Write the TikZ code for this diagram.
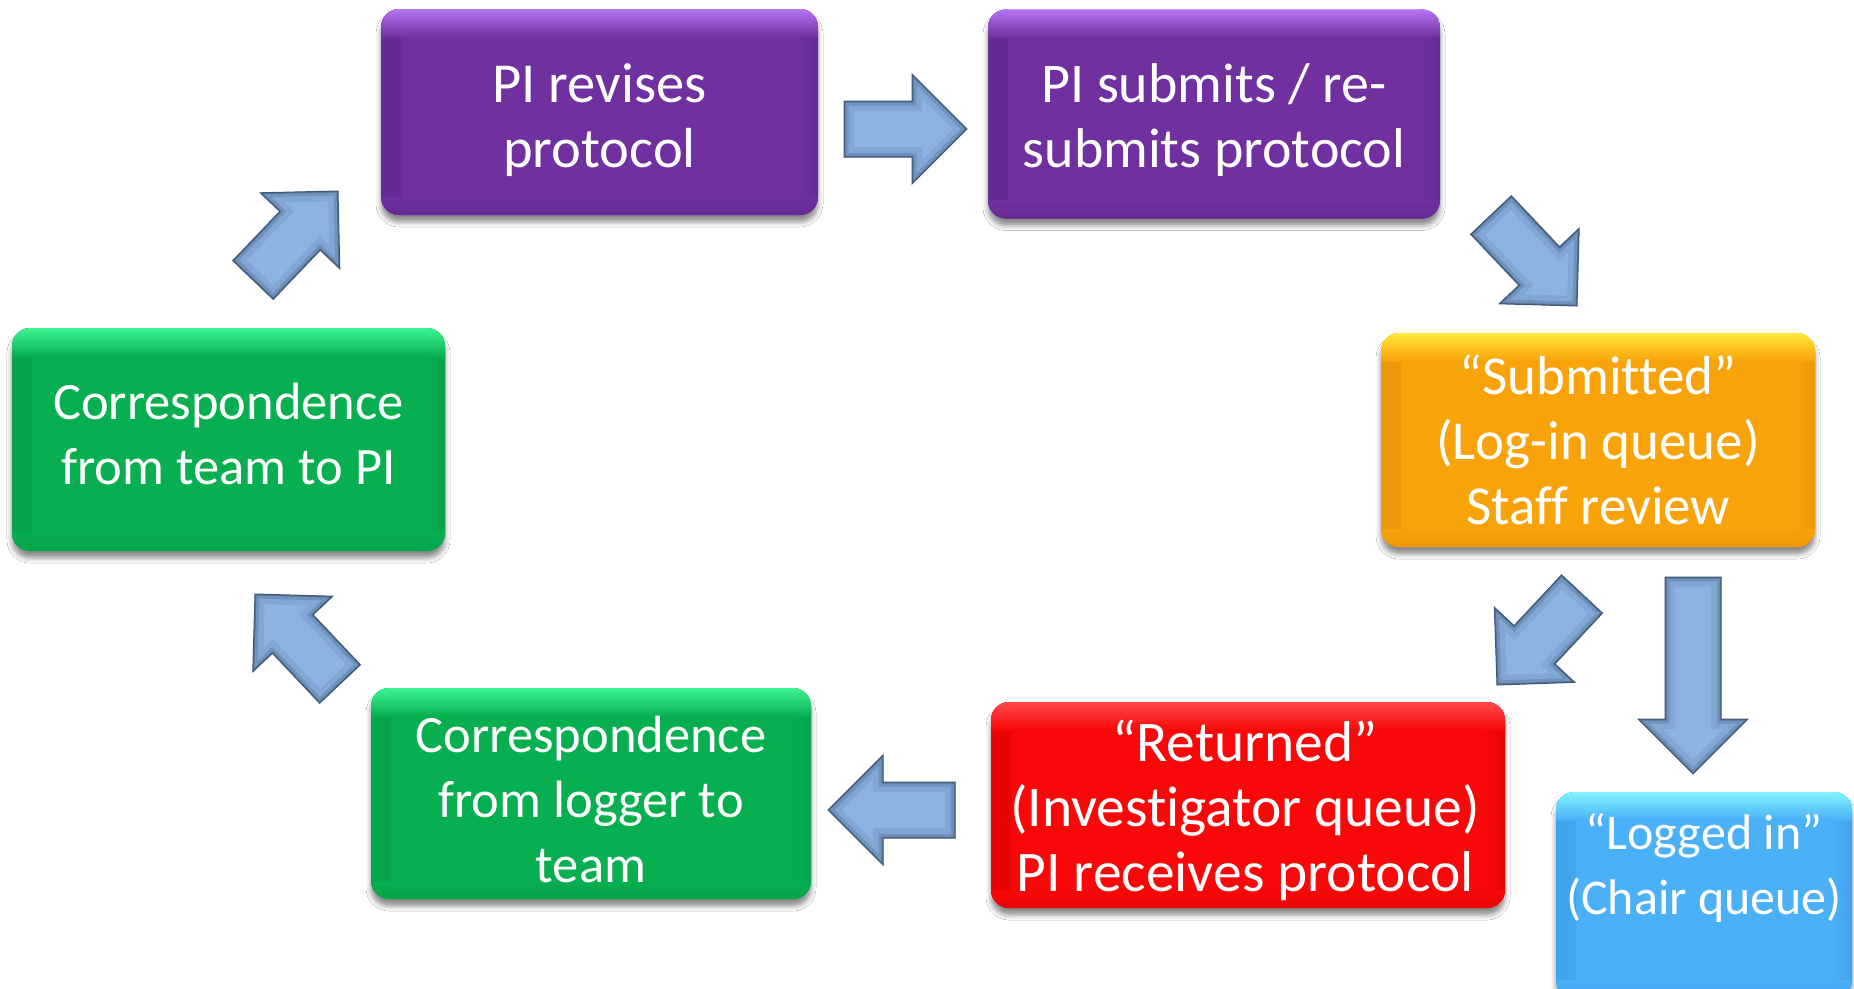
\documentclass[tikz,border=0pt]{standalone}
\usepackage{fontspec}
\setmainfont{Carlito}[Ligatures=NoCommon]
\usetikzlibrary{calc,shadows.blur}
\definecolor{purpleM}{HTML}{7030A0}
\definecolor{purpleL}{HTML}{B574F2}
\definecolor{purpleD}{HTML}{652A94}
\definecolor{orangeM}{HTML}{F9A30A}
\definecolor{orangeL}{HTML}{FFE83A}
\definecolor{orangeD}{HTML}{EC9808}
\definecolor{redM}{HTML}{F80808}
\definecolor{redL}{HTML}{FF4A4A}
\definecolor{redD}{HTML}{E80404}
\definecolor{greenM}{HTML}{07AF50}
\definecolor{greenL}{HTML}{3EF593}
\definecolor{greenD}{HTML}{06A44B}
\definecolor{blueM}{HTML}{4AB0F8}
\definecolor{blueL}{HTML}{80F4FF}
\definecolor{blueD}{HTML}{40A4EE}
\definecolor{arrowF}{HTML}{8DB3E2}
\definecolor{arrowE}{HTML}{3E5675}
\tikzset{
  box/.style n args={3}{rounded corners=18pt, fill=#1, inner sep=0pt,
    blur shadow={shadow xshift=0pt, shadow yshift=-7pt, shadow blur radius=5pt, shadow opacity=45},
    path picture={
      \shade[sharp corners, left color=#3, right color=#1] (path picture bounding box.north west) rectangle ([xshift=20pt]path picture bounding box.south west);
      \shade[sharp corners, left color=#1, right color=#3] ([xshift=-20pt]path picture bounding box.north east) rectangle (path picture bounding box.south east);
      \shade[sharp corners, top color=#1, bottom color=#3] ([yshift=18pt]path picture bounding box.south west) rectangle (path picture bounding box.south east);
      \shade[sharp corners, top color=#2, bottom color=#1] (path picture bounding box.north west) rectangle ([yshift=-28pt]path picture bounding box.north east);
    }},
  boxtext/.style={text=white, align=center, inner sep=0pt},
  arrowbody/.style={fill=arrowF},
  arrowglow/.style={draw=arrowE, line join=miter},
  arrowedge/.style={draw=arrowE, line width=1pt, line join=miter}
}
\newcommand\fsz[1]{\fontsize{#1}{65}\selectfont}
\newcommand\blockarrow[2]{%
  \coordinate (ba-b) at ($(#2)!55pt!(#1)$);
  \coordinate (ba-1) at ($(#1)!28pt!90:(#2)$);
  \coordinate (ba-2) at ($(ba-b)!28pt!90:(#2)$);
  \coordinate (ba-3) at ($(ba-b)!55pt!90:(#2)$);
  \coordinate (ba-4) at ($(ba-b)!55pt!-90:(#2)$);
  \coordinate (ba-5) at ($(ba-b)!28pt!-90:(#2)$);
  \coordinate (ba-6) at ($(#1)!28pt!-90:(#2)$);
  \path[arrowbody] (ba-1) -- (ba-2) -- (ba-3) -- (#2) -- (ba-4) -- (ba-5) -- (ba-6) -- cycle;
  \begin{scope}
    \clip (ba-1) -- (ba-2) -- (ba-3) -- (#2) -- (ba-4) -- (ba-5) -- (ba-6) -- cycle;
    \path[arrowglow, line width=20pt, opacity=0.12] (ba-1) -- (ba-2) -- (ba-3) -- (#2) -- (ba-4) -- (ba-5) -- (ba-6) -- cycle;
    \path[arrowglow, line width=9pt, opacity=0.25] (ba-1) -- (ba-2) -- (ba-3) -- (#2) -- (ba-4) -- (ba-5) -- (ba-6) -- cycle;
    \path[arrowglow, line width=3pt, opacity=0.5] (ba-1) -- (ba-2) -- (ba-3) -- (#2) -- (ba-4) -- (ba-5) -- (ba-6) -- cycle;
  \end{scope}
  \path[arrowedge] (ba-1) -- (ba-2) -- (ba-3) -- (#2) -- (ba-4) -- (ba-5) -- (ba-6) -- cycle;
}
\begin{document}
\begin{tikzpicture}[x=1pt,y=-1pt]
\useasboundingbox (0,0) rectangle (1854,988);
\fill[white] (0,0) rectangle (1854,988);

% boxes
\node[box={purpleM}{purpleL}{purpleD}, minimum width=437pt, minimum height=206pt] (p1) at (599.5,112) {};
\node[box={purpleM}{purpleL}{purpleD}, minimum width=452pt, minimum height=209pt] (p2) at (1214,114) {};
\node[box={orangeM}{orangeL}{orangeD}, minimum width=434pt, minimum height=214pt] (sub) at (1598,440) {};
\node[box={blueM}{blueL}{blueD}, minimum width=296pt, minimum height=206pt] (log) at (1704,895) {};
\node[box={redM}{redL}{redD}, minimum width=514pt, minimum height=206pt] (ret) at (1248,805) {};
\node[box={greenM}{greenL}{greenD}, minimum width=440pt, minimum height=211pt] (c2) at (591,793.5) {};
\node[box={greenM}{greenL}{greenD}, minimum width=433pt, minimum height=223pt] (c1) at (228.5,439.5) {};

% texts
\node[boxtext, font=\fsz{56.5}] (p1t) at (599.5,120) {PI revises\\protocol};
\node[boxtext, font=\fsz{56}] (p2t) at (1214,120) {PI submits / re-\\submits protocol};
\node[boxtext, font=\fsz{55}] (subt) at (1598,440) {“Submitted”\\(Log-in queue)\\Staff review};
\node[boxtext, font=\fsz{50}] (logt) at (1704,868) {“Logged in”\\(Chair queue)};
\node[boxtext, font=\fsz{57.5}] (rett) at (1245,810) {“Returned”\\(Investigator queue)\\PI receives protocol};
\node[boxtext, font=\fsz{52.5}] (c2t) at (591,799.5) {Correspondence\\from logger to\\team};
\node[boxtext, font=\fsz{52.5}] (c1t) at (228.5,433.5) {Correspondence\\from team to PI};

% arrow end points
\coordinate (a1s) at (253,280);  \coordinate (a1e) at (338,191);
\coordinate (a2s) at (844,129);  \coordinate (a2e) at (967,129);
\coordinate (a3s) at (1491,215); \coordinate (a3e) at (1577,306);
\coordinate (a4s) at (1693,577); \coordinate (a4e) at (1693,774);
\coordinate (a5s) at (1582,594); \coordinate (a5e) at (1497,685);
\coordinate (a6s) at (955,810);  \coordinate (a6e) at (828,810);
\coordinate (a7s) at (340,684);  \coordinate (a7e) at (255,594);

\blockarrow{a1s}{a1e}
\blockarrow{a2s}{a2e}
\blockarrow{a3s}{a3e}
\blockarrow{a4s}{a4e}
\blockarrow{a5s}{a5e}
\blockarrow{a6s}{a6e}
\blockarrow{a7s}{a7e}
\end{tikzpicture}
\end{document}
